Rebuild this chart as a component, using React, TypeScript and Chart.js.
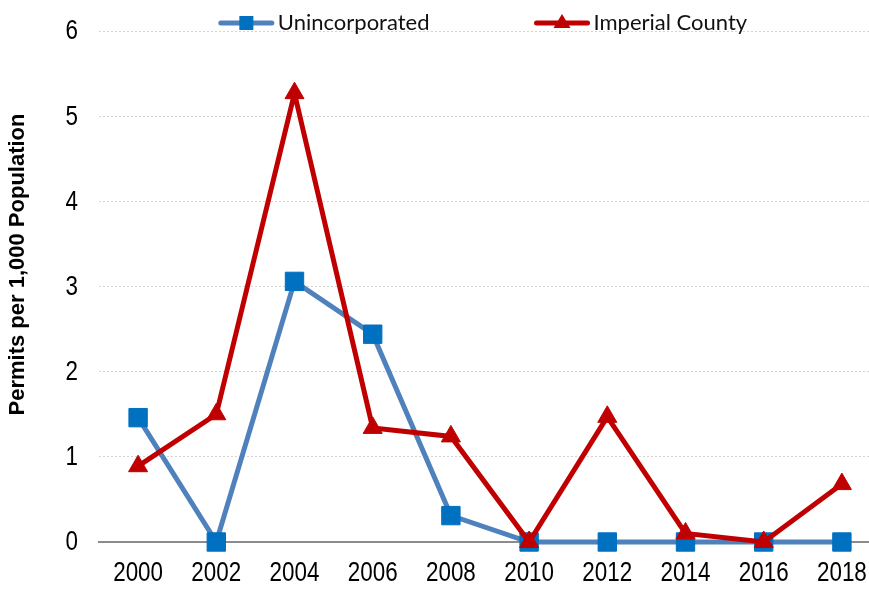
import React, { useEffect, useRef } from "react";
import { Chart, registerables } from "chart.js";

Chart.register(...registerables);

const years = ["2000", "2002", "2004", "2006", "2008", "2010", "2012", "2014", "2016", "2018"];
const unincorporated = [1.46, 0, 3.06, 2.44, 0.31, 0, 0, 0, 0, 0];
const imperialCounty = [0.89, 1.5, 5.27, 1.34, 1.24, 0, 1.47, 0.1, 0, 0.68];
const seriesNames = ["Unincorporated", "Imperial County"];
const yTitle = "Permits per 1,000 Population";
const yMin = 0;
const yMax = 6;
const yStep = 1;

const BLUE_LINE = "#4F81BD";
const BLUE_MARK = "#0070C0";
const RED = "#C00000";
const TICK_FONT = "27px 'Liberation Sans', Arial, sans-serif";
const NARROW = 0.83;

const overlayPlugin = {
  id: "overlay",
  afterDraw(chart: any) {
    const { ctx, chartArea } = chart;
    const xs = chart.scales.x;
    const ys = chart.scales.y;

    // condensed tick labels (Arial Narrow look), positioned by the library's scales
    ctx.save();
    ctx.font = TICK_FONT;
    ctx.fillStyle = "#000";
    ctx.textAlign = "center";
    ctx.textBaseline = "middle";
    xs.ticks.forEach((t: any, i: number) => {
      const px = xs.getPixelForTick(i);
      const label = xs.getLabelForValue(t.value);
      ctx.save();
      ctx.translate(px, chartArea.bottom + 32);
      ctx.scale(NARROW, 1);
      ctx.fillText(String(label), 0, 0);
      ctx.restore();
    });
    ctx.textAlign = "right";
    ys.ticks.forEach((t: any, i: number) => {
      const py = ys.getPixelForTick(i);
      ctx.save();
      ctx.translate(chartArea.left - 21, py + 1);
      ctx.scale(NARROW, 1);
      ctx.fillText(String(t.value), 0, 0);
      ctx.restore();
    });
    ctx.restore();

    // y-axis title
    ctx.save();
    ctx.font = "bold 22px 'Liberation Sans', Arial, sans-serif";
    ctx.fillStyle = "#000";
    ctx.textAlign = "center";
    ctx.textBaseline = "middle";
    ctx.translate(18, (chartArea.top + chartArea.bottom) / 2 - 22);
    ctx.rotate(-Math.PI / 2);
    ctx.fillText(yTitle, 0, 0);
    ctx.restore();

    // legend
    ctx.save();
    ctx.font = "22px Lato, 'Open Sans', sans-serif";
    const sampleW = 55;
    const textGap = 4;
    const itemGap = 105;
    const ds = chart.data.datasets;
    const widths = ds.map((d: any) => sampleW + textGap + ctx.measureText(d.label).width);
    const total = widths.reduce((a: number, b: number) => a + b, 0) + itemGap * (ds.length - 1);
    let x = (chartArea.left + chartArea.right) / 2 - 7 - total / 2;
    const lineY = chartArea.top - 8;
    const baseY = chartArea.top - 1;
    ds.forEach((d: any, i: number) => {
      ctx.strokeStyle = d.borderColor;
      ctx.lineWidth = 5;
      ctx.lineCap = "round";
      ctx.beginPath();
      ctx.moveTo(x + 2, lineY);
      ctx.lineTo(x + sampleW - 2, lineY);
      ctx.stroke();
      const cx = x + sampleW / 2;
      ctx.fillStyle = d.pointBackgroundColor;
      if (d.pointStyle === "rect") {
        ctx.fillRect(cx - 7, lineY - 7, 14, 14);
      } else {
        ctx.beginPath();
        ctx.moveTo(cx, lineY - 9);
        ctx.lineTo(cx + 8.5, lineY + 5);
        ctx.lineTo(cx - 8.5, lineY + 5);
        ctx.closePath();
        ctx.fill();
      }
      ctx.fillStyle = "#111";
      ctx.textAlign = "left";
      ctx.textBaseline = "alphabetic";
      ctx.fillText(d.label, x + sampleW + textGap, baseY);
      x += widths[i] + itemGap;
    });
    ctx.restore();
  },
};

export default function App() {
  const ref = useRef<HTMLCanvasElement | null>(null);

  useEffect(() => {
    if (!ref.current) return;
    const chart = new Chart(ref.current, {
      type: "line",
      data: {
        labels: years,
        datasets: [
          {
            label: seriesNames[0],
            data: unincorporated,
            borderColor: BLUE_LINE,
            backgroundColor: BLUE_MARK,
            borderWidth: 5,
            pointStyle: "rect",
            pointRadius: 13,
            pointHoverRadius: 13,
            pointBorderWidth: 1,
            pointBackgroundColor: BLUE_MARK,
            pointBorderColor: BLUE_MARK,
            tension: 0,
            clip: false,
            order: 1,
          } as any,
          {
            label: seriesNames[1],
            data: imperialCounty,
            borderColor: RED,
            backgroundColor: RED,
            borderWidth: 5,
            pointStyle: "triangle",
            pointRadius: 11,
            pointHoverRadius: 11,
            pointBorderWidth: 1,
            pointBackgroundColor: RED,
            pointBorderColor: RED,
            tension: 0,
            clip: false,
            order: 0,
          } as any,
        ],
      },
      options: {
        responsive: true,
        maintainAspectRatio: false,
        animation: false,
        devicePixelRatio: 1,
        layout: { autoPadding: false, padding: { top: 31, left: 0, right: 0, bottom: 0 } },
        plugins: {
          legend: { display: false },
          tooltip: { enabled: false },
        },
        scales: {
          x: {
            offset: true,
            grid: { display: false, drawTicks: false },
            border: { display: true, color: "#8c8c8c", width: 2 },
            ticks: { display: false, autoSkip: false, maxRotation: 0, font: { size: 1 }, padding: 0 },
            afterFit: (s: any) => {
              s.height = 47;
              s.paddingLeft = 0;
              s.paddingRight = 0;
            },
          },
          y: {
            min: yMin,
            max: yMax,
            grid: {
              color: (c: any) => (c.tick && c.tick.value === 0 ? "rgba(0,0,0,0)" : "#d4d4d4"),
              lineWidth: 1,
              drawTicks: false,
            },
            border: { display: false, dash: [2, 2] },
            ticks: { display: false, stepSize: yStep, font: { size: 1 }, padding: 0 },
            afterFit: (s: any) => {
              s.width = 99;
              s.paddingTop = 0;
              s.paddingBottom = 0;
            },
          },
        },
      },
      plugins: [overlayPlugin],
    });
    return () => chart.destroy();
  }, []);

  return (
    <div style={{ position: "fixed", left: 0, top: 0, width: 869, height: 589, overflow: "hidden", background: "#fff" }}>
      <div style={{ position: "relative", width: 881, height: 589 }}>
        <canvas ref={ref} />
      </div>
    </div>
  );
}
